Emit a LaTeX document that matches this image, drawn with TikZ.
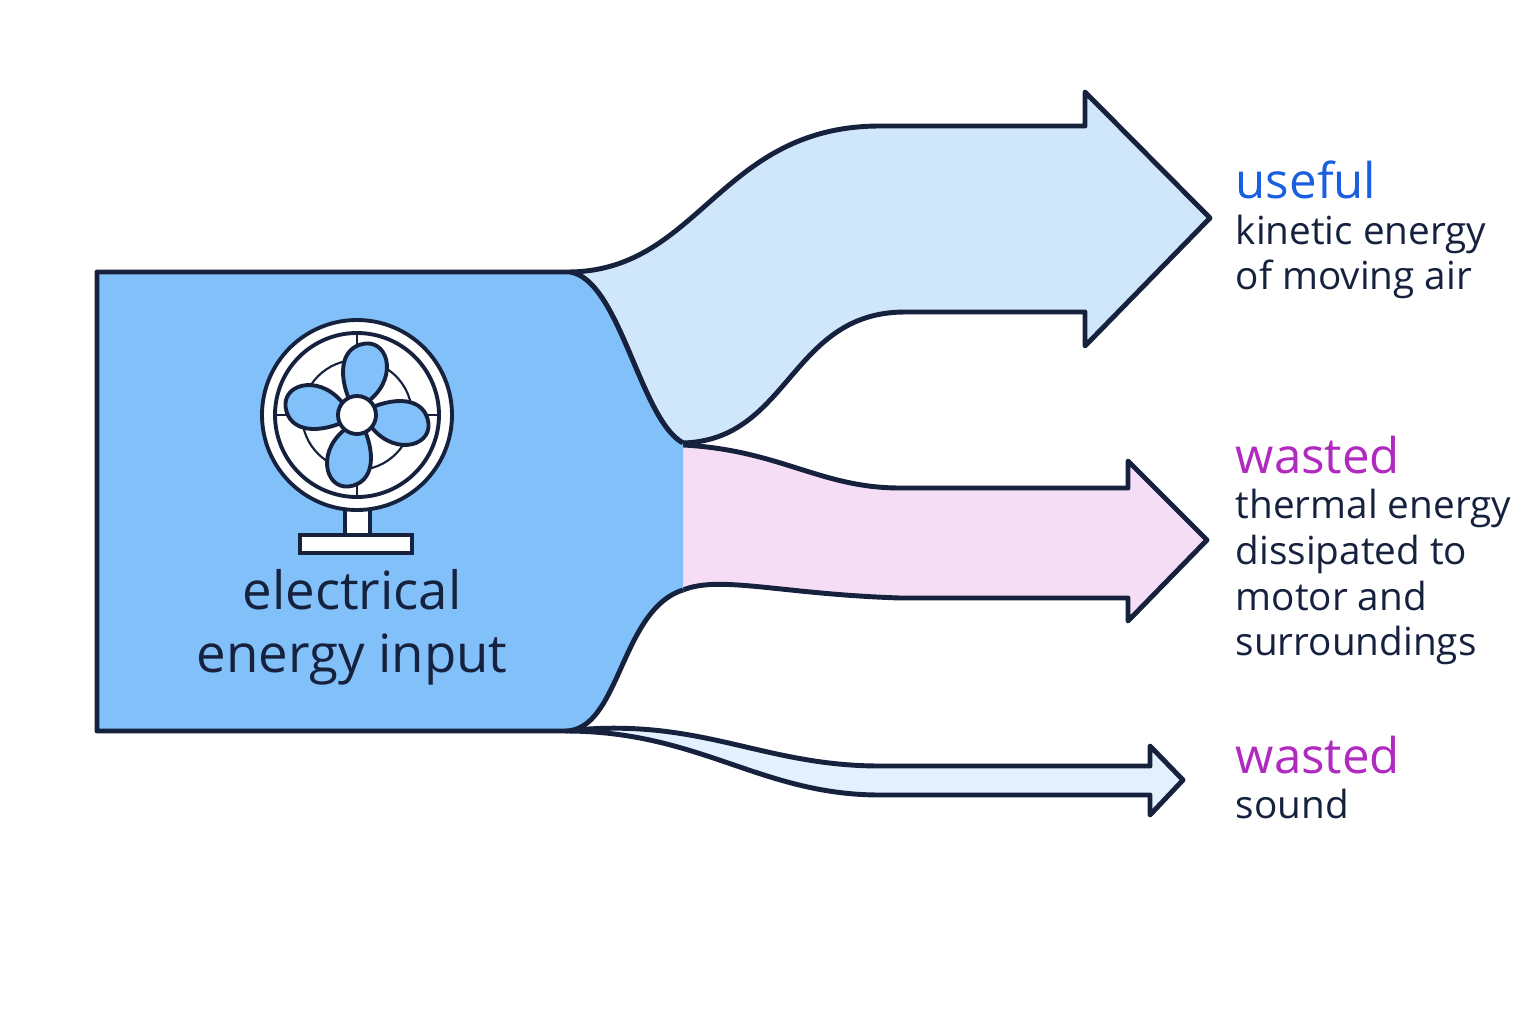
\documentclass[tikz,border=0pt]{standalone}
\usepackage{fontspec}
\setmainfont{Open Sans}
\usetikzlibrary{positioning}
\definecolor{inkNavy}{HTML}{16213E}
\definecolor{inputBlue}{HTML}{82C0FA}
\definecolor{usefulFill}{HTML}{CFE6FB}
\definecolor{heatFill}{HTML}{F5DDF6}
\definecolor{soundFill}{HTML}{E3F0FD}
\definecolor{usefulText}{HTML}{1A5FE0}
\definecolor{wastedText}{HTML}{B02AC0}

\begin{document}
\begin{tikzpicture}[
    x=0.01cm, y=-0.01cm,
    flow/.style={draw=inkNavy, line width=1.4pt, line join=round},
    label/.style={font=\fontsize{11}{13}\selectfont, text=inkNavy, align=left, anchor=north west, inner sep=0pt},
    fanline/.style={draw=inkNavy, line width=1.1pt}
]
\useasboundingbox (0,0) rectangle (1536,1024);

% outgoing flows
\path[flow, fill=usefulFill] (570,272) .. controls (700,270) and (720,126) .. (880,126) -- (1085,126) -- (1085,92) -- (1210,218) -- (1085,346) -- (1085,312) -- (905,312) .. controls (790,312) and (790,440) .. (683,443) .. controls (640,420) and (620,280) .. (570,272);
\fill[heatFill] (683,445) .. controls (780,450) and (820,488) .. (900,488) -- (1128,488) -- (1128,461) -- (1207,540) -- (1128,621) -- (1128,598) -- (900,598) .. controls (780,594) and (720,575) .. (683,590) -- cycle;
\draw[flow] (683,445) .. controls (780,450) and (820,488) .. (900,488) -- (1128,488) -- (1128,461) -- (1207,540) -- (1128,621) -- (1128,598) -- (900,598) .. controls (780,594) and (720,575) .. (683,590);
\path[flow, fill=soundFill] (565,731) .. controls (700,716) and (760,766) .. (880,766) -- (1150,766) -- (1150,746) -- (1183,780) -- (1150,815) -- (1150,795) -- (880,795) .. controls (760,795) and (700,731) .. (565,731);

% input block
\fill[inputBlue] (97,272) -- (570,272) .. controls (620,280) and (640,420) .. (683,443) -- (683,590) .. controls (620,610) and (620,731) .. (565,731) -- (97,731) -- cycle;
\draw[flow] (683,590) .. controls (620,610) and (620,731) .. (565,731) -- (97,731) -- (97,272) -- (570,272) .. controls (620,280) and (640,420) .. (683,443);

% fan
\draw[fanline, fill=white] (300,535) rectangle (412,553);
\draw[fanline, fill=white] (345,505) rectangle (370,535);
\draw[fanline, fill=white] (357,415) circle (95);
\draw[fanline, fill=white] (357,415) circle (82);
\draw[fanline, line width=0.6pt] (357,415) circle (55);
\draw[fanline, line width=0.7pt] (275,415) -- (439,415) (357,333) -- (357,497);
\foreach \ang in {20,110,200,290}
  \draw[fanline, fill=inputBlue, rotate around={\ang:(357,415)}] (357,415) .. controls (350,380) and (360,348) .. (385,350) .. controls (412,352) and (410,392) .. (375,405) -- cycle;
\draw[fanline, fill=white] (357,415) circle (19);

% texts
\node[font=\fontsize{15}{18}\selectfont, text=inkNavy, align=center] (input) at (352,627) {electrical\\energy input};
\node[label] (useful) at (1235,160) {{\fontsize{14}{16}\selectfont\color{usefulText}useful}\\kinetic energy\\of moving air};
\node[label] (heat) at (1235,435) {{\fontsize{14}{16}\selectfont\color{wastedText}wasted}\\thermal energy\\dissipated to\\motor and\\surroundings};
\node[label] (sound) at (1235,735) {{\fontsize{14}{16}\selectfont\color{wastedText}wasted}\\sound};
\end{tikzpicture}
\end{document}
